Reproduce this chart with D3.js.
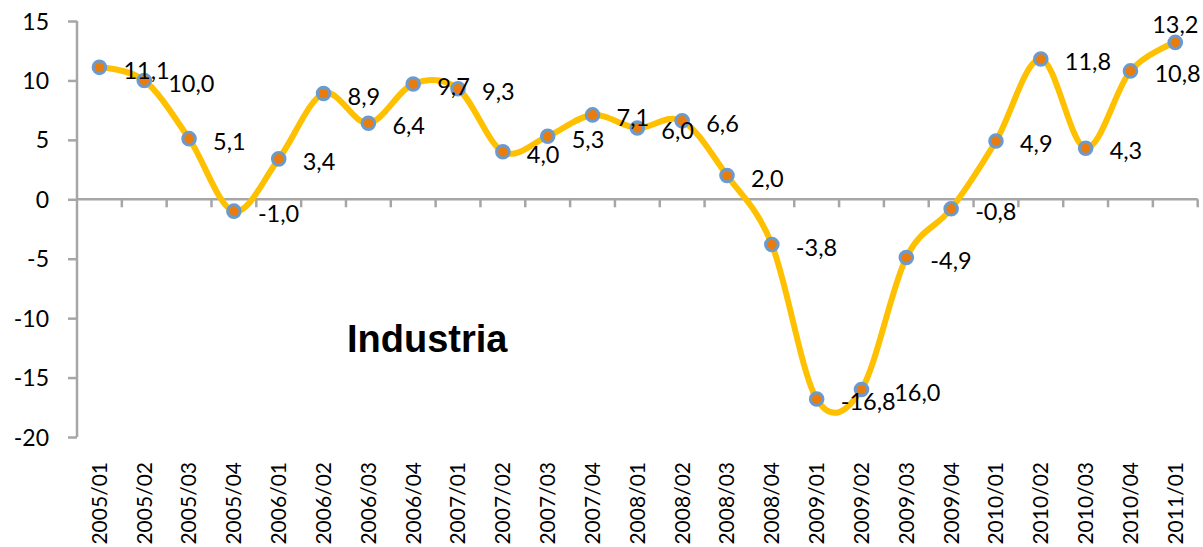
<!DOCTYPE html>
<html>
<head>
<meta charset="utf-8">
<script src="https://cdn.jsdelivr.net/npm/d3@7/dist/d3.min.js"></script>
<style>
  html, body { margin: 0; padding: 0; background: #fff; }
  svg { display: block; }
</style>
</head>
<body>
<svg id="chart" width="1203" height="547"></svg>
<script>
const categories = ["2005/01","2005/02","2005/03","2005/04","2006/01","2006/02","2006/03","2006/04",
  "2007/01","2007/02","2007/03","2007/04","2008/01","2008/02","2008/03","2008/04",
  "2009/01","2009/02","2009/03","2009/04","2010/01","2010/02","2010/03","2010/04","2011/01"];
const values = [11.1, 10.0, 5.1, -1.0, 3.4, 8.9, 6.4, 9.7, 9.3, 4.0, 5.3, 7.1, 6.0, 6.6, 2.0, -3.8,
  -16.8, -16.0, -4.9, -0.8, 4.9, 11.8, 4.3, 10.8, 13.2];
const yTicks = [-20, -15, -10, -5, 0, 5, 10, 15];
const title = "Industria";

(function () {
const svg = d3.select("#chart");
const mLeft = 77, mRight = 1197.7, mTop = 21, mBottom = 437;

const x = d3.scaleBand().domain(categories).range([mLeft, mRight]).padding(0);
const y = d3.scaleLinear().domain([-20, 15]).range([mBottom, mTop]);
const cx = d => x(d) + x.bandwidth() / 2;

const axisColor = "#a6a6a6";
const fontNum = "Lato, 'Noto Sans', sans-serif";

// Y axis
const yAxis = d3.axisLeft(y).tickValues(yTicks).tickSize(9).tickPadding(0).tickFormat(d3.format("d"));
const yg = svg.append("g").attr("transform", `translate(${mLeft},0)`).call(yAxis);
yg.select(".domain").attr("stroke", axisColor).attr("stroke-width", 2.5).attr("d", `M0,${mTop}V${mBottom}`);
yg.selectAll(".tick line").attr("stroke", axisColor).attr("stroke-width", 2.5);
yg.selectAll(".tick text")
  .attr("x", -28).attr("dy", "0.35em")
  .attr("font-family", fontNum).attr("font-size", 23).attr("fill", "#000")
  .text(d => d < 0 ? "-" + Math.abs(d) : d);

// X axis at y=0
const xg = svg.append("g").attr("transform", `translate(0,${y(0)})`);
const xAxis = d3.axisBottom(x).tickSize(0).tickFormat("");
xg.call(xAxis);
xg.select(".domain").attr("stroke", axisColor).attr("stroke-width", 2.5).attr("d", `M${mLeft},0H${mRight}`);
xg.selectAll(".tick").remove();
const boundaries = categories.map(c => x(c)).concat([x(categories[categories.length - 1]) + x.bandwidth()]).slice(1);
xg.selectAll("line.bt").data(boundaries).join("line")
  .attr("class", "bt")
  .attr("x1", d => d).attr("x2", d => d).attr("y1", 0).attr("y2", 8)
  .attr("stroke", axisColor).attr("stroke-width", 2.5);

// Category labels (rotated)
svg.append("g").selectAll("text").data(categories).join("text")
  .attr("transform", d => `translate(${cx(d)},462) rotate(-90)`)
  .attr("text-anchor", "end").attr("dy", "0.35em")
  .attr("font-family", fontNum).attr("font-size", 21).attr("fill", "#000")
  .text(d => d);

// Line
const pts = categories.map((c, i) => [cx(c), y(values[i])]);
const line = d3.line().curve(d3.curveCatmullRom.alpha(0));
svg.append("path").attr("d", line(pts))
  .attr("fill", "none").attr("stroke", "#ffc000").attr("stroke-width", 6)
  .attr("stroke-linejoin", "round").attr("stroke-linecap", "round");

// Markers
svg.append("g").selectAll("circle").data(pts).join("circle")
  .attr("cx", d => d[0]).attr("cy", d => d[1]).attr("r", 6.3)
  .attr("fill", "#e97c0c").attr("stroke", "#6a9bd0").attr("stroke-width", 3);

// Data labels
const fmt = v => v.toFixed(1).replace(".", ",");
const last = values.length - 1;
svg.append("g").selectAll("text").data(values).join("text")
  .attr("x", (d, i) => i === last ? pts[i][0] : pts[i][0] + 24)
  .attr("y", (d, i) => i === last ? pts[i][1] - 18 : pts[i][1] + 3)
  .attr("dy", "0.35em")
  .attr("text-anchor", (d, i) => i === last ? "middle" : "start")
  .attr("font-family", fontNum).attr("font-size", 23.5).attr("fill", "#000")
  .text(d => fmt(d));

// Title
svg.append("text").attr("x", 347).attr("y", 352)
  .attr("font-family", "'Liberation Sans', Arial, sans-serif").attr("font-weight", "bold")
  .attr("font-size", 38).attr("fill", "#000")
  .text(title);
})();
</script>
</body>
</html>
